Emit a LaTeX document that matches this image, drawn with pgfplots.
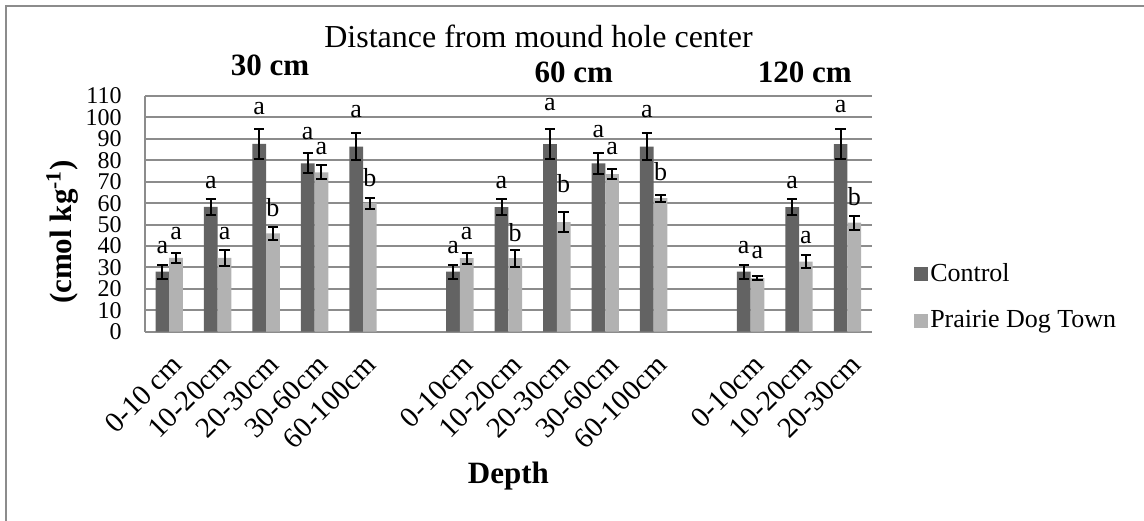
\documentclass[border=0pt]{standalone}
\usepackage{pgfplots}
\pgfplotsset{compat=1.18}
\usepackage{pgfplotstable}
\usepackage{fontspec}
\setmainfont{Liberation Serif}
\definecolor{ctrl}{RGB}{99,99,99}
\definecolor{pdt}{RGB}{178,178,178}
\definecolor{gridgray}{RGB}{140,140,140}
\pgfplotsset{legsq/.style={legend image code/.code={\fill[#1] (0pt,-3.5pt) rectangle (7pt,3.5pt);}}}

\pgfplotstableread{
x y e
0 28.0 3.2
1 58.3 3.7
2 87.7 7.0
3 78.6 4.7
4 86.4 6.2
6 28.0 3.2
7 58.2 3.7
8 87.6 7.0
9 78.6 4.8
10 86.4 6.2
12 28.0 3.2
13 58.2 3.7
14 87.6 7.0
}\ctrltab

\pgfplotstableread{
x y e
0 34.4 2.4
1 34.4 3.6
2 45.9 3.0
3 74.4 3.2
4 60.0 2.6
6 34.3 2.5
7 34.3 3.9
8 51.1 4.7
9 73.5 2.3
10 62.3 1.7
12 25.0 1.0
13 32.7 3.0
14 50.9 3.3
}\pdttab

\pgfplotstableread{
x y lab
0 36.6 a
1 66.9 a
2 101.6 a
3 89.8 a
4 100.0 a
6 36.3 a
7 66.9 a
8 103.2 a
9 90.7 a
10 100.0 a
12 36.3 a
13 66.9 a
14 102.4 a
}\ctrllet

\pgfplotstableread{
x y lab
0 43.1 a
1 43.1 a
2 54.0 b
3 82.9 a
4 68.0 b
6 43.1 a
7 42.3 b
8 64.9 b
9 82.9 a
10 70.8 b
12 34.3 a
13 41.0 a
14 59.1 b
}\pdtlet

\begin{document}
\begin{tikzpicture}
\useasboundingbox (0,0) rectangle (572pt,-260pt);
\draw[gridgray, line width=1pt] (3pt,-265pt) -- (3pt,-3pt) -- (580pt,-3pt);
\begin{axis}[
  at={(72.5pt,-165.85pt)}, anchor=south west,
  scale only axis, width=363.35pt, height=117.85pt,
  xmin=-0.5, xmax=14.5, ymin=0, ymax=110,
  axis x line*=bottom, axis y line*=left,
  axis line style={gridgray, line width=1pt, -},
  ymajorgrids, grid style={gridgray, line width=1pt},
  major tick length=0pt,
  ytick={0,10,...,110},
  xtick={0,1,2,3,4,6,7,8,9,10,12,13,14},
  xticklabels={0-10 cm,10-20cm,20-30cm,30-60cm,60-100cm,0-10cm,10-20cm,20-30cm,30-60cm,60-100cm,0-10cm,10-20cm,20-30cm},
  /pgf/number format/assume math mode=true,
  yticklabel style={font=\fontsize{12}{12}\selectfont, anchor=east, inner sep=0pt, xshift=-11.5pt},
  xticklabel style={font=\fontsize{14.5}{14.5}\selectfont, xshift=7.5pt, yshift=-17.5pt, rotate=45, anchor=base east, inner sep=0pt},
  xlabel={\textbf{Depth}},
  xlabel style={at={(axis description cs:0.5,-0.642)}, anchor=base, font=\fontsize{15.5}{18}\selectfont},
  ylabel={\textbf{(cmol kg\textsuperscript{-1})}},
  ylabel style={at={(axis description cs:-0.114,0.423)}, anchor=center, font=\fontsize{15.5}{18}\selectfont},
  legend style={draw=none, fill=none, at={(1.058,0.147)}, anchor=west,
    font=\fontsize{13}{15}\selectfont, row sep=11pt, inner sep=0pt,
    nodes={inner sep=1pt},
    /tikz/every even column/.append style={column sep=0pt}},
  legend cell align=left,
  clip=false,
]
\addplot[ybar, bar width=6.85pt, bar shift=-3.425pt, fill=ctrl, draw=none, forget plot,
  error bars/.cd, y dir=both, y explicit,
  error bar style={black, line width=1pt, xshift=-3.425pt},
  error mark options={black, rotate=90, mark size=2.6pt, line width=1pt}]
  table[x=x, y=y, y error=e] {\ctrltab};
\addplot[ybar, bar width=6.85pt, bar shift=3.425pt, fill=pdt, draw=none, forget plot,
  error bars/.cd, y dir=both, y explicit,
  error bar style={black, line width=1pt, xshift=3.425pt},
  error mark options={black, rotate=90, mark size=2.6pt, line width=1pt}]
  table[x=x, y=y, y error=e] {\pdttab};
\addplot[forget plot, only marks, mark=none, nodes near coords, point meta=explicit symbolic,
  nodes near coords style={anchor=base, inner sep=0pt, xshift=-3.425pt, yshift=0pt, font=\fontsize{13}{13}\selectfont}]
  table[x=x, y=y, meta=lab] {\ctrllet};
\addplot[forget plot, only marks, mark=none, nodes near coords, point meta=explicit symbolic,
  nodes near coords style={anchor=base, inner sep=0pt, xshift=3.425pt, yshift=0pt, font=\fontsize{13}{13}\selectfont}]
  table[x=x, y=y, meta=lab] {\pdtlet};
\addlegendimage{legsq, fill=ctrl, draw=none}
\addlegendentry{Control}
\addlegendimage{legsq, fill=pdt, draw=none}
\addlegendentry{Prairie Dog Town}
\node[anchor=base, font=\fontsize{16}{18}\selectfont] at (axis description cs:0.5415,1.2037) {Distance from mound hole center};
\node[anchor=base, font=\bfseries\fontsize{15.5}{18}\selectfont] at (axis description cs:0.172,1.085) {30 cm};
\node[anchor=base, font=\bfseries\fontsize{15.5}{18}\selectfont] at (axis description cs:0.590,1.0594) {60 cm};
\node[anchor=base, font=\bfseries\fontsize{15.5}{18}\selectfont] at (axis description cs:0.908,1.0594) {120 cm};
\end{axis}
\end{tikzpicture}
\end{document}
